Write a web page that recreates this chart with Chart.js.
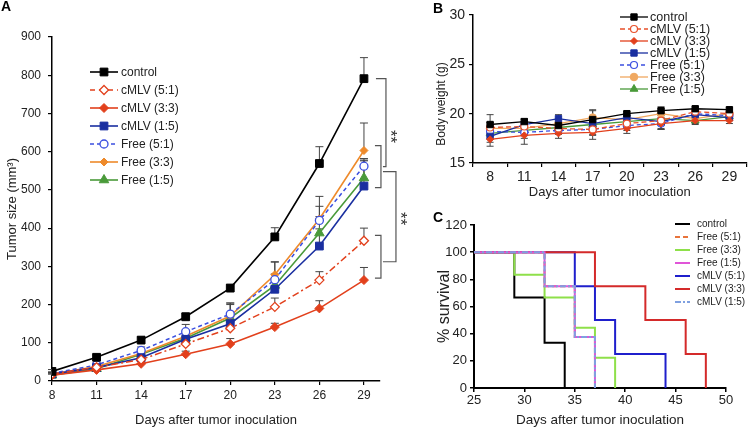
<!DOCTYPE html>
<html><head><meta charset="utf-8">
<script src="https://cdn.jsdelivr.net/npm/chart.js@4.4.1/dist/chart.umd.min.js"></script>
<style>
html,body{margin:0;padding:0;background:#fff;}
body{width:752px;height:428px;position:relative;overflow:hidden;}
canvas{position:absolute;}
</style></head><body>
<canvas id="cA" width="420" height="428" style="left:0;top:0"></canvas>
<canvas id="cB" width="332" height="200" style="left:420px;top:0"></canvas>
<canvas id="cC" width="332" height="228" style="left:420px;top:200px"></canvas>
<script>
// ---------- DATA ----------
const days = [8, 11, 14, 17, 20, 23, 26, 29];
const seriesNames = ['control', 'cMLV (5:1)', 'cMLV (3:3)', 'cMLV (1:5)', 'Free (5:1)', 'Free (3:3)', 'Free (1:5)'];

// Panel A: tumor size (mm3)
const tumorControl = [25, 62, 107, 168, 243, 377, 569, 791];
const tumorCMLV51  = [18, 36, 56, 97, 138, 194, 264, 367];
const tumorCMLV33  = [15, 29, 45, 70, 97, 141, 190, 264];
const tumorCMLV15  = [18, 35, 61, 109, 150, 240, 353, 510];
const tumorFree51  = [20, 42, 80, 129, 175, 265, 420, 562];
const tumorFree33  = [18, 38, 72, 117, 170, 278, 424, 603];
const tumorFree15  = [15, 32, 70, 112, 165, 250, 387, 531];
const tumorErrControl = [5, 6, 8, 10, 10, 24, 44, 55];
const tumorErrCMLV51  = [4, 5, 8, 12, 15, 23, 22, 33];
const tumorErrCMLV33  = [3, 4, 6, 8, 14, 10, 20, 33];
const tumorErrCMLV15  = [4, 5, 8, 12, 18, 25, 45, 68];
const tumorErrFree51  = [4, 6, 9, 19, 25, 47, 37, 20];
const tumorErrFree33  = [4, 6, 9, 16, 34, 33, 59, 72];
const tumorErrFree15  = [4, 5, 8, 14, 39, 30, 43, 45];
const tumorTicks = [0, 100, 200, 300, 400, 500, 600, 700, 800, 900];
const sigLabel = '**';

// Panel B: body weight (g)
const bwControl = [18.9, 19.2, 18.8, 19.4, 20.0, 20.3, 20.5, 20.4];
const bwCMLV51  = [18.6, 18.7, 18.5, 18.4, 19.0, 19.3, 20.2, 20.0];
const bwCMLV33  = [17.4, 17.8, 18.0, 18.1, 18.5, 19.0, 19.3, 19.3];
const bwCMLV15  = [17.7, 18.9, 19.5, 19.0, 19.6, 19.2, 19.9, 19.6];
const bwFree51  = [18.2, 18.1, 18.3, 18.4, 18.8, 19.0, 20.0, 19.8];
const bwFree33  = [18.5, 18.5, 19.0, 19.6, 19.4, 20.0, 19.5, 20.0];
const bwFree15  = [18.0, 18.3, 18.6, 18.9, 19.2, 19.5, 19.3, 19.7];
const bwErrControl = [1.0, 0.3, 0.3, 0.9, 0.2, 0.4, 0.2, 0.2];
const bwErrCMLV51  = [0.5, 0.5, 0.4, 0.6, 0.4, 0.5, 0.3, 0.3];
const bwErrCMLV33  = [0.7, 0.9, 0.5, 0.7, 0.5, 0.6, 0.4, 0.3];
const bwErrCMLV15  = [0.6, 0.5, 0.4, 0.5, 0.4, 0.8, 0.3, 0.3];
const bwErrFree51  = [0.5, 0.6, 0.4, 0.5, 0.5, 0.5, 0.3, 0.3];
const bwErrFree33  = [0.6, 0.5, 0.5, 0.8, 0.4, 0.5, 0.4, 0.3];
const bwErrFree15  = [0.5, 0.5, 0.4, 0.6, 0.4, 0.4, 0.3, 0.3];

// Panel C: survival (%)
const survNames = ['control', 'Free (5:1)', 'Free (3:3)', 'Free (1:5)', 'cMLV (5:1)', 'cMLV (3:3)', 'cMLV (1:5)'];
const survControlT = [25, 29, 32, 34];           const survControlS = [100, 66.7, 33.3, 0];
const survFree51T  = [25, 32, 35, 37];           const survFree51S  = [100, 75, 37.5, 0];
const survFree33T  = [25, 29, 32, 35, 37, 39];   const survFree33S  = [100, 83.3, 66.7, 44.4, 22.2, 0];
const survFree15T  = [25, 32, 35, 37];           const survFree15S  = [100, 75, 37.5, 0];
const survCMLV51T  = [25, 35, 37, 39, 44];       const survCMLV51S  = [100, 75, 50, 25, 0];
const survCMLV33T  = [25, 37, 42, 46, 48];       const survCMLV33S  = [100, 75, 50, 25, 0];
const survCMLV15T  = [25, 32, 35, 37];           const survCMLV15S  = [100, 75, 37.5, 0];

// ---------- HELPERS ----------
Chart.defaults.font.family = "'Liberation Sans', Arial, sans-serif";
Chart.defaults.color = '#222';
const FONT = "'Liberation Sans', Arial, sans-serif";

function drawMarker(ctx, style, x, y, r, fill, stroke, lw) {
  ctx.save();
  ctx.setLineDash([]);
  ctx.beginPath();
  if (style === 'rect') { const s = r * Math.SQRT1_2; ctx.rect(x - s, y - s, 2 * s, 2 * s); }
  else if (style === 'rectRot') { ctx.moveTo(x, y - r); ctx.lineTo(x + r, y); ctx.lineTo(x, y + r); ctx.lineTo(x - r, y); ctx.closePath(); }
  else if (style === 'triangle') {
    for (let k = 0; k < 3; k++) { const a = k * 2 * Math.PI / 3; const px = x + Math.sin(a) * r, py = y - Math.cos(a) * r; k ? ctx.lineTo(px, py) : ctx.moveTo(px, py); }
    ctx.closePath();
  } else { ctx.arc(x, y, r, 0, Math.PI * 2); }
  ctx.fillStyle = fill; ctx.fill();
  ctx.lineWidth = lw; ctx.strokeStyle = stroke; ctx.stroke();
  ctx.restore();
}

function errPlugin(cfg) {
  return {
    id: 'errBars',
    beforeDatasetsDraw(chart) {
      const ctx = chart.ctx, ys = chart.scales.y;
      ctx.save();
      ctx.strokeStyle = cfg.color; ctx.lineWidth = cfg.width; ctx.setLineDash([]);
      chart.data.datasets.forEach((ds, di) => {
        if (!ds.errors) return;
        const meta = chart.getDatasetMeta(di);
        ds.errors.forEach((e, i) => {
          const pt = meta.data[i]; if (!pt) return;
          const raw = ds.data[i]; const v = typeof raw === 'object' ? raw.y : raw;
          const x = pt.x, yT = ys.getPixelForValue(v + e);
          const yB = cfg.both ? ys.getPixelForValue(v - e) : pt.y;
          ctx.beginPath();
          ctx.moveTo(x, yT); ctx.lineTo(x, yB);
          ctx.moveTo(x - cfg.cap, yT); ctx.lineTo(x + cfg.cap, yT);
          if (cfg.both) { ctx.moveTo(x - cfg.cap, yB); ctx.lineTo(x + cfg.cap, yB); }
          ctx.stroke();
        });
      });
      ctx.restore();
    }
  };
}

function legendPlugin(cfg) {
  return {
    id: 'customLegend',
    afterDraw(chart) {
      const ctx = chart.ctx;
      ctx.save();
      ctx.font = cfg.font + 'px ' + FONT;
      ctx.textBaseline = 'middle'; ctx.textAlign = 'left'; ctx.fillStyle = '#222';
      chart.data.datasets.forEach((ds, i) => {
        const y = cfg.y0 + i * cfg.dy;
        ctx.save();
        ctx.strokeStyle = ds.borderColor; ctx.lineWidth = cfg.lw || ds.borderWidth;
        ctx.setLineDash(ds.legendDash || ds.borderDash || []);
        ctx.beginPath(); ctx.moveTo(cfg.x0, y); ctx.lineTo(cfg.x1, y); ctx.stroke();
        ctx.restore();
        if (cfg.markers && ds.pointStyle) {
          drawMarker(ctx, ds.pointStyle, (cfg.x0 + cfg.x1) / 2, y, ds.pointRadius, ds.pointBackgroundColor, ds.borderColor, ds.pointBorderWidth || 1);
        }
        ctx.fillStyle = '#222';
        ctx.fillText(ds.label, cfg.tx, y + 0.5);
      });
      ctx.restore();
    }
  };
}

function panelLabel(text, x, y) {
  return {
    id: 'panelLabel',
    afterDraw(chart) {
      const ctx = chart.ctx; ctx.save();
      ctx.font = 'bold 14px ' + FONT; ctx.fillStyle = '#000'; ctx.textBaseline = 'alphabetic';
      ctx.fillText(text, x, y); ctx.restore();
    }
  };
}

function rotatedTitle(text, x, y, size) {
  return {
    id: 'rotTitle',
    afterDraw(chart) {
      const ctx = chart.ctx; ctx.save();
      ctx.font = size + 'px ' + FONT; ctx.fillStyle = '#222';
      ctx.textAlign = 'center'; ctx.textBaseline = 'middle';
      ctx.translate(x, y); ctx.rotate(-Math.PI / 2); ctx.fillText(text, 0, 0);
      ctx.restore();
    }
  };
}

function axisBase(extra) {
  return Object.assign({
    grid: { display: true, drawOnChartArea: false, drawTicks: true, tickLength: 4, color: '#000', tickColor: '#000', lineWidth: 1.2 },
    border: { display: true, color: '#000', width: 1.5 }
  }, extra);
}

// ---------- PANEL A ----------
const xy = arr => days.map((d, i) => ({ x: d, y: arr[i] }));
const brackets = {
  id: 'brackets',
  afterDraw(chart) {
    const ctx = chart.ctx, xs = chart.scales.x, ys = chart.scales.y;
    const x29 = xs.getPixelForValue(29);
    const Y = v => ys.getPixelForValue(v);
    ctx.save();
    ctx.strokeStyle = '#555'; ctx.lineWidth = 1.2; ctx.setLineDash([]);
    const seg = pts => { ctx.beginPath(); pts.forEach((p, k) => k ? ctx.lineTo(p[0], p[1]) : ctx.moveTo(p[0], p[1])); ctx.stroke(); };
    const gTop1 = tumorFree33[7] + 13, gBot1 = tumorCMLV15[7] - 4;
    seg([[x29 + 11, Y(gTop1)], [x29 + 17, Y(gTop1)], [x29 + 17, Y(gBot1)], [x29 + 11, Y(gBot1)]]);
    const gTop2 = tumorCMLV51[7] + 14, gBot2 = tumorCMLV33[7] + 5;
    seg([[x29 + 11, Y(gTop2)], [x29 + 17, Y(gTop2)], [x29 + 17, Y(gBot2)], [x29 + 11, Y(gBot2)]]);
    const mid1 = (gTop1 + gBot1) / 2, mid2 = (gTop2 + gBot2) / 2;
    seg([[x29 + 12, Y(tumorControl[7])], [x29 + 22, Y(tumorControl[7])], [x29 + 22, Y(mid1)], [x29 + 19, Y(mid1)]]);
    seg([[x29 + 19, Y(mid1 - 13)], [x29 + 32, Y(mid1 - 13)], [x29 + 32, Y(mid2 - 13)], [x29 + 19, Y(mid2 - 13)]]);
    ctx.fillStyle = '#333'; ctx.font = '17px ' + FONT; ctx.textAlign = 'center'; ctx.textBaseline = 'middle';
    const star = (x, y) => { ctx.save(); ctx.translate(x, y); ctx.rotate(Math.PI / 2); ctx.fillText(sigLabel, 0, 3); ctx.restore(); };
    star(x29 + 29, (Y(tumorControl[7]) + Y(mid1)) / 2 + 14);
    star(x29 + 39, (Y(mid1 - 13) + Y(mid2 - 13)) / 2 + 2);
    ctx.restore();
  }
};

const colRed = '#E2401C', colBlueD = '#1A2FA0', colBlue = '#3B4FE0', colOrange = '#EE8A2B', colGreen = '#4A9A3A';
new Chart(document.getElementById('cA'), {
  type: 'line',
  data: {
    datasets: [
      { label: seriesNames[0], data: xy(tumorControl), errors: tumorErrControl, borderColor: '#000', borderWidth: 1.6, pointStyle: 'rect', pointRadius: 5.5, pointBackgroundColor: '#000', pointBorderColor: '#000', pointBorderWidth: 1 },
      { label: seriesNames[1], data: xy(tumorCMLV51), errors: tumorErrCMLV51, borderColor: colRed, borderWidth: 1.5, borderDash: [7, 3, 2, 3], legendDash: [5, 4], pointStyle: 'rectRot', pointRadius: 4.5, pointBackgroundColor: '#fff', pointBorderColor: colRed, pointBorderWidth: 1.3 },
      { label: seriesNames[2], data: xy(tumorCMLV33), errors: tumorErrCMLV33, borderColor: colRed, borderWidth: 1.6, pointStyle: 'rectRot', pointRadius: 4.5, pointBackgroundColor: colRed, pointBorderColor: colRed, pointBorderWidth: 1 },
      { label: seriesNames[3], data: xy(tumorCMLV15), errors: tumorErrCMLV15, borderColor: colBlueD, borderWidth: 1.6, pointStyle: 'rect', pointRadius: 5.5, pointBackgroundColor: colBlueD, pointBorderColor: colBlueD, pointBorderWidth: 1 },
      { label: seriesNames[4], data: xy(tumorFree51), errors: tumorErrFree51, borderColor: colBlue, borderWidth: 1.5, borderDash: [4, 3], pointStyle: 'circle', pointRadius: 4, pointBackgroundColor: '#fff', pointBorderColor: colBlue, pointBorderWidth: 1.3 },
      { label: seriesNames[5], data: xy(tumorFree33), errors: tumorErrFree33, borderColor: colOrange, borderWidth: 1.6, pointStyle: 'rectRot', pointRadius: 4, pointBackgroundColor: colOrange, pointBorderColor: colOrange, pointBorderWidth: 1 },
      { label: seriesNames[6], data: xy(tumorFree15), errors: tumorErrFree15, borderColor: colGreen, borderWidth: 1.6, pointStyle: 'triangle', pointRadius: 5.5, pointBackgroundColor: colGreen, pointBorderColor: colGreen, pointBorderWidth: 1 }
    ]
  },
  options: {
    responsive: false, animation: false, devicePixelRatio: 1,
    layout: { padding: { left: 0, right: 40, top: 37, bottom: 0 } },
    plugins: { legend: { display: false }, tooltip: { enabled: false } },
    elements: { line: { tension: 0 } },
    scales: {
      x: axisBase({
        type: 'linear', min: 8, max: 30.08,
        afterBuildTicks: s => { s.ticks = days.map(v => ({ value: v })); },
        afterFit: s => { s.height = 47; },
        ticks: { font: { size: 12 }, padding: 3, color: '#222', maxRotation: 0 },
        title: { display: true, text: 'Days after tumor inoculation', font: { size: 13 }, padding: { top: 0, bottom: 0 }, color: '#222' }
      }),
      y: axisBase({
        min: 0, max: 900,
        afterBuildTicks: s => { s.ticks = tumorTicks.map(v => ({ value: v })); },
        afterFit: s => { s.width = 52; },
        ticks: { font: { size: 12 }, padding: 7, color: '#222' },
        title: { display: true, text: 'Tumor size (mm³)', font: { size: 13 }, padding: { top: 5, bottom: 0 }, color: '#222' }
      })
    }
  },
  plugins: [errPlugin({ color: '#444', width: 1, cap: 4, both: false }), brackets,
            legendPlugin({ x0: 90, x1: 118, tx: 121, y0: 72, dy: 18, font: 12, markers: true, lw: 1.6 }),
            panelLabel('A', 1, 11)]
});

// ---------- PANEL B ----------
new Chart(document.getElementById('cB'), {
  type: 'line',
  data: {
    labels: days.map(String),
    datasets: [
      { label: seriesNames[0], data: bwControl, errors: bwErrControl, borderColor: '#000', borderWidth: 1.3, pointStyle: 'rect', pointRadius: 4.5, pointBackgroundColor: '#000', pointBorderColor: '#000', pointBorderWidth: 1 },
      { label: seriesNames[1], data: bwCMLV51, errors: bwErrCMLV51, borderColor: '#E8502A', borderWidth: 1.3, borderDash: [5, 3], pointStyle: 'circle', pointRadius: 3.5, pointBackgroundColor: '#fff', pointBorderColor: '#E8502A', pointBorderWidth: 1.2 },
      { label: seriesNames[2], data: bwCMLV33, errors: bwErrCMLV33, borderColor: colRed, borderWidth: 1.3, pointStyle: 'rectRot', pointRadius: 3.5, pointBackgroundColor: colRed, pointBorderColor: colRed, pointBorderWidth: 1 },
      { label: seriesNames[3], data: bwCMLV15, errors: bwErrCMLV15, borderColor: colBlueD, borderWidth: 1.3, pointStyle: 'rect', pointRadius: 4.5, pointBackgroundColor: colBlueD, pointBorderColor: colBlueD, pointBorderWidth: 1 },
      { label: seriesNames[4], data: bwFree51, errors: bwErrFree51, borderColor: colBlue, borderWidth: 1.3, borderDash: [4, 3], pointStyle: 'circle', pointRadius: 3.5, pointBackgroundColor: '#fff', pointBorderColor: colBlue, pointBorderWidth: 1.2 },
      { label: seriesNames[5], data: bwFree33, errors: bwErrFree33, borderColor: '#F0A860', borderWidth: 1.3, pointStyle: 'circle', pointRadius: 3.8, pointBackgroundColor: '#F0A860', pointBorderColor: '#F0A860', pointBorderWidth: 1 },
      { label: seriesNames[6], data: bwFree15, errors: bwErrFree15, borderColor: colGreen, borderWidth: 1.3, pointStyle: 'triangle', pointRadius: 4.5, pointBackgroundColor: colGreen, pointBorderColor: colGreen, pointBorderWidth: 1 }
    ]
  },
  options: {
    responsive: false, animation: false, devicePixelRatio: 1,
    layout: { padding: { left: 0, right: 1, top: 15, bottom: 0 } },
    plugins: { legend: { display: false }, tooltip: { enabled: false } },
    scales: {
      x: axisBase({
        type: 'category', offset: true,
        grid: { display: true, offset: true, drawOnChartArea: false, drawTicks: true, tickLength: 4, color: '#000', tickColor: '#000', lineWidth: 1.2 },
        afterFit: s => { s.height = 37; },
        ticks: { font: { size: 14 }, padding: 2, color: '#222', maxRotation: 0 },
        title: { display: true, text: 'Days after tumor inoculation', font: { size: 13 }, padding: { top: 0, bottom: 0 }, color: '#222' }
      }),
      y: axisBase({
        min: 15, max: 30,
        ticks: { stepSize: 5, font: { size: 14 }, padding: 4, color: '#222' },
        afterFit: s => { s.width = 53; },
        title: { display: false }
      })
    }
  },
  plugins: [errPlugin({ color: '#444', width: 1, cap: 3.5, both: true }),
            legendPlugin({ x0: 200, x1: 228, tx: 230, y0: 17, dy: 12, font: 12.5, markers: true, lw: 1.3 }),
            rotatedTitle('Body weight (g)', 22, 104, 12),
            panelLabel('B', 13, 13)]
});

// ---------- PANEL C ----------
const txy = (t, s) => t.map((v, i) => ({ x: v, y: s[i] }));
const survStyles = [
  { c: '#000', d: [], o: 7 },
  { c: '#E8743B', d: [5, 3], o: 6 },
  { c: '#8EE04A', d: [], o: 5 },
  { c: '#E055D8', d: [], o: 2 },
  { c: '#1F1FCC', d: [], o: 4 },
  { c: '#D42A2A', d: [], o: 3 },
  { c: '#7FA0E0', d: [6, 2, 2, 2], o: 1 }
];
const survData = [
  txy(survControlT, survControlS), txy(survFree51T, survFree51S), txy(survFree33T, survFree33S),
  txy(survFree15T, survFree15S), txy(survCMLV51T, survCMLV51S), txy(survCMLV33T, survCMLV33S), txy(survCMLV15T, survCMLV15S)
];
new Chart(document.getElementById('cC'), {
  type: 'line',
  data: {
    datasets: survData.map((d, i) => ({
      label: survNames[i], data: d, stepped: true, borderColor: survStyles[i].c, borderWidth: 2,
      borderDash: survStyles[i].d, pointRadius: 0, order: survStyles[i].o, fill: false
    }))
  },
  options: {
    responsive: false, animation: false, devicePixelRatio: 1,
    layout: { padding: { left: 0, right: 26, top: 25, bottom: 0 } },
    plugins: { legend: { display: false }, tooltip: { enabled: false } },
    scales: {
      x: axisBase({
        type: 'linear', min: 25, max: 50,
        border: { display: true, color: '#000', width: 2 },
        grid: { display: true, drawOnChartArea: false, drawTicks: true, tickLength: 4, color: '#000', tickColor: '#000', lineWidth: 1.5 },
        ticks: { stepSize: 5, font: { size: 13 }, padding: 1, color: '#222', maxRotation: 0 },
        afterFit: s => { s.height = 40; },
        title: { display: true, text: 'Days after tumor inoculation', font: { size: 13.5 }, padding: { top: 0, bottom: 0 }, color: '#222' }
      }),
      y: axisBase({
        min: 0, max: 120,
        border: { display: true, color: '#000', width: 2 },
        grid: { display: true, drawOnChartArea: false, drawTicks: true, tickLength: 4, color: '#000', tickColor: '#000', lineWidth: 1.5 },
        ticks: { stepSize: 20, font: { size: 13 }, padding: 3, color: '#222' },
        afterFit: s => { s.width = 54; },
        title: { display: true, text: '% survival', font: { size: 16 }, padding: { top: 15, bottom: 0 }, color: '#222' }
      })
    }
  },
  plugins: [legendPlugin({ x0: 255, x1: 270, tx: 277, y0: 24, dy: 13, font: 10, markers: false, lw: 2 }),
            panelLabel('C', 13, 22)]
});
</script>
</body></html>
